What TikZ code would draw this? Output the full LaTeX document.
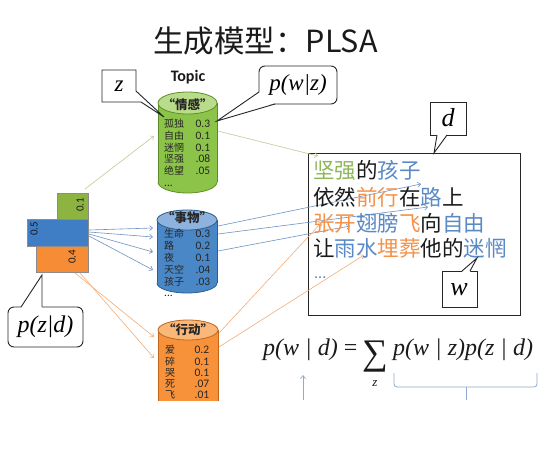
\documentclass[tikz,border=0pt]{standalone}
\usepackage{fontspec}
\newfontfamily\cjk{Noto Sans CJK SC}
\newfontfamily\calib{Carlito}
\newfontfamily\tnr{Liberation Serif}
\usetikzlibrary{arrows.meta}
\definecolor{gbody}{HTML}{8CC449}
\definecolor{gtop}{HTML}{B9DC8A}
\definecolor{gedge}{HTML}{5E8C2A}
\definecolor{bbody}{HTML}{4A87C6}
\definecolor{btop}{HTML}{8CB2DD}
\definecolor{bedge}{HTML}{2E5E8E}
\definecolor{obody}{HTML}{F7923A}
\definecolor{otop}{HTML}{F9B77A}
\definecolor{oedge}{HTML}{C0651A}
\definecolor{gbar}{HTML}{8DB441}
\definecolor{bbar}{HTML}{3F7DC4}
\definecolor{obar}{HTML}{F68C35}
\definecolor{gline}{HTML}{B9CF92}
\definecolor{bline}{HTML}{6F93C2}
\definecolor{oline}{HTML}{F3AE7A}
\definecolor{dg}{HTML}{8DB858}
\definecolor{db}{HTML}{5A8AC6}
\definecolor{do}{HTML}{F5924A}
\definecolor{txt}{HTML}{1A1A1A}
\definecolor{brc}{HTML}{8FAACC}
\newcommand\cnum[1]{{\calib\fontsize{11.5}{11}\selectfont #1}}
% cx rx ty by ry body top edge
\newcommand\mycyl[8]{%
  \fill[#6] (#1-#2,#3) rectangle (#1+#2,#4);
  \fill[#6] (#1,#4) ellipse [x radius=#2, y radius=#5];
  \draw[#8,line width=0.8pt] (#1-#2,#3) -- (#1-#2,#4) (#1+#2,#3) -- (#1+#2,#4);
  \begin{scope}
    \clip (#1-#2-2,#4) rectangle (#1+#2+2,#4+#5+2);
    \draw[#8,line width=0.8pt] (#1,#4) ellipse [x radius=#2, y radius=#5];
  \end{scope}
  \filldraw[fill=#7,draw=#8,line width=0.8pt] (#1,#3) ellipse [x radius=#2, y radius=#5];
}
\begin{document}
\begin{tikzpicture}[x=1pt,y=-1pt,
  callout/.style={draw=black!85,line width=0.9pt,fill=white},
  mathlbl/.style={font=\tnr\itshape\fontsize{23}{26}\selectfont,inner sep=0},
  cylword/.style={font=\cjk\fontsize{10}{11.3}\selectfont,inner sep=0,anchor=north west,text=black!85},
  cyltitle/.style={font=\cjk\bfseries\fontsize{12.5}{14}\selectfont,inner sep=0,text=black!85},
  barlbl/.style={font=\calib\fontsize{11}{12}\selectfont,rotate=90,inner sep=0,text=black!90},
  barbox/.style={draw=black!45,line width=0.5pt,inner sep=0,anchor=north west},
  docline/.style={font=\cjk\fontsize{21.5}{24}\selectfont,anchor=west,inner sep=0,text=txt},
  tip/.style={-{Straight Barb[length=3pt,width=5pt]}},
  garrow/.style={draw=gline,line width=0.6pt,tip},
  barrow/.style={draw=bline,line width=0.6pt,tip},
  oarrow/.style={draw=oline,line width=0.6pt,tip},
]
\useasboundingbox (0,0) rectangle (547,448);
\fill[white] (0,0) rectangle (547,448);

% title
\node[anchor=west,inner sep=0,font=\cjk\fontsize{30.5}{33}\selectfont,text=txt] (title) at (153,41) {生成模型：PLSA};
\node[font=\calib\bfseries\fontsize{16}{18}\selectfont,inner sep=0,text=txt] (topic) at (188,77) {Topic};

% cylinders
\mycyl{187.5}{29.5}{103}{182}{11}{gbody}{gtop}{gedge}
\mycyl{187}{30}{220}{283}{10}{bbody}{btop}{bedge}
\fill[obody] (158,330) rectangle (218,401);
\draw[oedge,line width=0.8pt] (158,330) -- (158,401) (218,330) -- (218,401);
\filldraw[fill=otop,draw=oedge,line width=0.8pt] (188,330) ellipse [x radius=30, y radius=10];

\node[cyltitle] (gt) at (187.5,105) {“情感”};
\node[cyltitle] (bt) at (187,218) {“事物”};
\node[cyltitle] (ot) at (188,330) {“行动”};

\node[cylword] (gw) at (164,119) {\begin{tabular*}{46pt}{@{}l@{\extracolsep{\fill}}r@{}}
孤独 & \cnum{0.3}\\ 自由 & \cnum{0.1}\\ 迷惘 & \cnum{0.1}\\ 坚强 & \cnum{.08}\\ 绝望 & \cnum{.05}\\ \cnum{...} & \end{tabular*}};
\node[cylword] (bw) at (164,229) {\begin{tabular*}{46pt}{@{}l@{\extracolsep{\fill}}r@{}}
生命 & \cnum{0.3}\\ 路 & \cnum{0.2}\\ 夜 & \cnum{0.1}\\ 天空 & \cnum{.04}\\ 孩子 & \cnum{.03}\\ \cnum{...} & \end{tabular*}};
\node[cylword,font=\cjk\fontsize{10}{10.5}\selectfont] (ow) at (165,345.5) {\begin{tabular*}{44pt}{@{}l@{\extracolsep{\fill}}r@{}}
爱 & \cnum{0.2}\\ 碎 & \cnum{0.1}\\ 哭 & \cnum{0.1}\\ 死 & \cnum{.07}\\ 飞 & \cnum{.01}\end{tabular*}};

% stacked bars p(z|d)
\node[barbox,fill=gbar,minimum width=31,minimum height=26] (gbr) at (57,193) {};
\node[barbox,fill=bbar,minimum width=61,minimum height=27] (bbr) at (27,219) {};
\node[barbox,fill=obar,minimum width=52,minimum height=26] (obr) at (36,246) {};
\node[barlbl] (gbl) at (80,205) {0.1};
\node[barlbl] (bbl) at (34,229) {0.5};
\node[barlbl] (obl) at (72,257) {0.4};

% arrows bars -> topics
\coordinate (ga0) at (85,189);  \coordinate (ga1) at (154,136);
\draw[garrow] (ga0) -- (ga1);
\coordinate (ba0) at (89,230); \coordinate (ba1) at (153,228);
\coordinate (bb0) at (89,232); \coordinate (bb1) at (153,237);
\coordinate (bc0) at (89,234); \coordinate (bc1) at (153,252);
\coordinate (bd0) at (89,236); \coordinate (bd1) at (153,270);
\draw[barrow] (ba0) -- (ba1);
\draw[barrow] (bb0) -- (bb1);
\draw[barrow] (bc0) -- (bc1);
\draw[barrow] (bd0) -- (bd1);
\coordinate (oa0) at (75,273); \coordinate (oa1) at (154,337);
\coordinate (ob0) at (80,273); \coordinate (ob1) at (154,358);
\draw[oarrow] (oa0) -- (oa1);
\draw[oarrow] (ob0) -- (ob1);

% document box
\node[draw=black!85,line width=0.9pt,anchor=north west,minimum width=212,minimum height=162,inner sep=0] (doc) at (308,153) {};

% topic -> words lines
\coordinate (gs) at (218,131); \coordinate (ge) at (318,156);
\draw[garrow] (gs) -- (ge);
\coordinate (bs1) at (218,226); \coordinate (be1) at (421,184);
\coordinate (bs2) at (218,234); \coordinate (be2) at (428,207);
\coordinate (bs3) at (218,251); \coordinate (be3) at (350,226);
\draw[barrow] (bs1) -- (be1);
\draw[barrow] (bs2) -- (be2);
\draw[barrow] (bs3) -- (be3);
\coordinate (os1) at (219,333); \coordinate (oe1) at (322,222);
\coordinate (os2) at (219,347); \coordinate (oe2) at (364,255);
\draw[oarrow] (os1) -- (oe1);
\draw[oarrow] (os2) -- (oe2);

% document text
\node[docline] (l1) at (313,170) {\textcolor{dg}{坚强}的\textcolor{db}{孩子}};
\node[docline] (l2) at (313,197) {依然\textcolor{do}{前行}在\textcolor{db}{路}上};
\node[docline] (l3) at (313,223) {\textcolor{do}{张开}\textcolor{db}{翅膀}\textcolor{do}{飞}向\textcolor{db}{自由}};
\node[docline] (l4) at (313,248) {让\textcolor{db}{雨水}\textcolor{do}{埋葬}他的\textcolor{db}{迷惘}};
\node[docline,font=\calib\fontsize{16}{18}\selectfont,text=db] (l5) at (314,278) {...};

% callout z
\draw[callout] (102,70) -- (136,70) -- (136,91) -- (164,117) -- (141,102) -- (102,102) -- cycle;
\node[mathlbl] (zl) at (119,86) {z};
% callout p(w|z)
\draw[callout,rounded corners=6] (259,66) rectangle (337,104);
\fill[white] (259.9,92) -- (217,121) -- (275,103.1) -- cycle;
\draw[black!85,line width=0.9pt] (259,92) -- (217,121) -- (275,104);
\node[mathlbl] (pwz) at (298,85) {p(w|z)};
% callout p(z|d)
\draw[callout,rounded corners=6] (8,307) rectangle (83,347);
\fill[white] (21,307.9) -- (42,275) -- (42,307.9) -- cycle;
\draw[black!85,line width=0.9pt] (21,307) -- (42,275) -- (42,307);
\node[mathlbl,font=\tnr\itshape\fontsize{24}{26}\selectfont] (pzd) at (45.5,327) {p(z|d)};
% callout d
\draw[callout] (430,102) rectangle (466,135);
\fill[white] (437,134.1) -- (434,153) -- (447,134.1) -- cycle;
\draw[black!85,line width=0.9pt] (437,135) -- (434,153) -- (447,135);
\node[mathlbl,font=\tnr\itshape\fontsize{26}{28}\selectfont] (dl) at (448,118) {d};
% callout w
\draw[callout] (442,271) rectangle (477,307);
\fill[white] (462,271.9) -- (477,258) -- (470,271.9) -- cycle;
\draw[black!85,line width=0.9pt] (462,271) -- (477,258) -- (470,271);
\node[mathlbl,font=\tnr\itshape\fontsize{26}{28}\selectfont] (wl) at (459,290) {w};

% formula
\node[anchor=base west,inner sep=0,font=\tnr\itshape\fontsize{24}{28}\selectfont,text=txt] (fl) at (263,355) {p(w | d) {\upshape =}};
\node[inner sep=0,font=\tnr\fontsize{36}{38}\selectfont,text=txt] (sum) at (375,357) {∑};
\node[inner sep=0,font=\tnr\itshape\fontsize{13}{14}\selectfont,text=txt] (sz) at (375,384) {z};
\node[anchor=base west,inner sep=0,font=\tnr\itshape\fontsize{24}{28}\selectfont,text=txt] (fr) at (393,355) {p(w | z)p(z | d)};

% up arrow and brace
\coordinate (ua0) at (303,400); \coordinate (ua1) at (303,375);
\draw[draw=brc,line width=0.7pt,tip] (ua0) -- (ua1);
\coordinate (br0) at (394,373); \coordinate (brm) at (466,387); \coordinate (br1) at (537,373);
\coordinate (brt) at (466,400);
\draw[brc,line width=0.8pt,rounded corners=3] (br0) -- (394,387) -- (brm) -- (537,387) -- (br1);
\draw[brc,line width=0.8pt] (brm) -- (brt);
\end{tikzpicture}
\end{document}
